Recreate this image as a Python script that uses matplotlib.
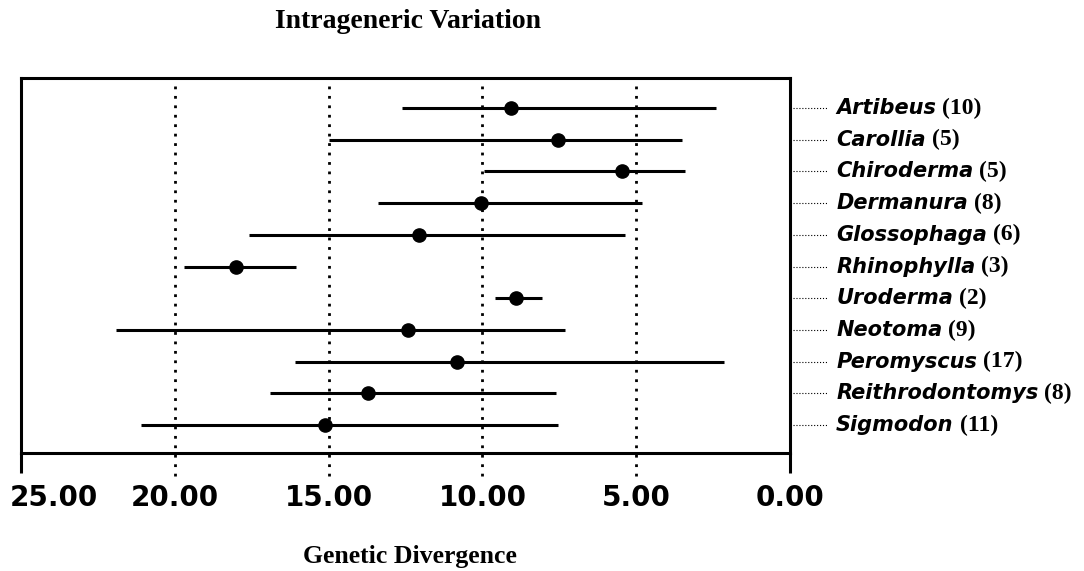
import numpy as np
import matplotlib
matplotlib.use("Agg")
import matplotlib.pyplot as plt
import matplotlib.transforms as mtransforms

# genus, sample size, and divergence range (left end, mean, right end)
genera = ["Artibeus", "Carollia", "Chiroderma", "Dermanura", "Glossophaga",
          "Rhinophylla", "Uroderma", "Neotoma", "Peromyscus",
          "Reithrodontomys", "Sigmodon"]
counts = [10, 5, 5, 8, 6, 3, 2, 9, 17, 8, 11]
high = [12.6, 15.0, 9.95, 13.4, 17.6, 19.7, 9.6, 21.9, 16.1, 16.9, 21.1]
mean = [9.07, 7.54, 5.46, 10.05, 12.06, 18.0, 8.91, 12.42, 10.83, 13.72, 15.12]
low = [2.4, 3.5, 3.4, 4.8, 5.35, 16.05, 8.05, 7.3, 2.15, 7.6, 7.55]

xticks = [25, 20, 15, 10, 5, 0]
xticklabels = ["25.00", "20.00", "15.00", "10.00", "5.00", "0.00"]

W, H = 1084, 571
fig = plt.figure(figsize=(W / 100, H / 100), dpi=100)
ax = fig.add_axes([21 / W, 1 - 453 / H, (790 - 21) / W, (453 - 78) / H])

ypos = np.arange(len(genera))
ax.set_xlim(25, 0)
ax.set_ylim(10.88, -0.946)

for s in ax.spines.values():
    s.set_linewidth(2.2)

# dotted reference lines, running down past the bottom spine
for v in xticks[1:-1]:
    ax.axvline(v, ymin=-0.06, ymax=1, color="black", lw=2.0,
               ls=(0, (1, 2.4)), clip_on=False, zorder=1)

ax.hlines(ypos, low, high, color="black", lw=2.2, zorder=2)
ax.plot(mean, ypos, "o", color="black", ms=9.5, zorder=3)

ax.set_yticks([])
ax.set_xticks(xticks)
ax.set_xticklabels(xticklabels, fontsize=20, fontweight="bold",
                   family="DejaVu Sans")
ax.tick_params(axis="x", length=14.4, width=2.2, direction="out", pad=8)
for t in ax.xaxis.get_major_ticks()[1:-1]:
    t.tick1line.set_visible(False)
first = ax.get_xticklabels()[0]
first.set_ha("left")
first.set_transform(first.get_transform() +
                    mtransforms.ScaledTranslation(-11 / 100, 0, fig.dpi_scale_trans))

# leader lines and labels on the right
trans = mtransforms.blended_transform_factory(ax.transAxes, ax.transData)
fig.canvas.draw()
renderer = fig.canvas.get_renderer()
for y, g, n in zip(ypos, genera, counts):
    ax.plot([1.004, 1.049], [y, y], color="black", lw=0.8, ls=":",
            transform=trans, clip_on=False)
    t = ax.text(1.06, y, g, transform=trans, fontsize=15,
                fontweight="bold", style="italic", family="DejaVu Sans",
                va="center", ha="left")
    bb = t.get_window_extent(renderer)
    shift = (bb.width + 6) / 100
    ax.text(1.06, y, "(%d)" % n, fontsize=17, fontweight="bold",
            family="Liberation Serif", va="center", ha="left",
            transform=trans + mtransforms.ScaledTranslation(
                shift, 0, fig.dpi_scale_trans))

fig.text(408 / W, 1 - 21 / H, "Intrageneric Variation", fontsize=20,
         fontweight="bold", family="Liberation Serif", ha="center", va="center")
fig.text(410 / W, 1 - 556 / H, "Genetic Divergence", fontsize=18.5,
         fontweight="bold", family="Liberation Serif", ha="center", va="center")

fig.savefig("out.png", dpi=100)
